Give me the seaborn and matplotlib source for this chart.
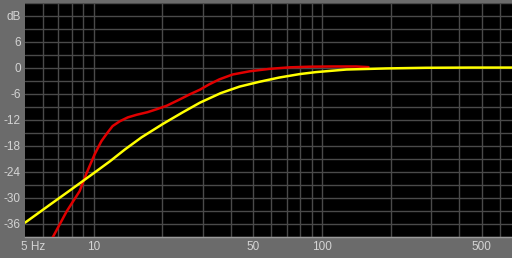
import numpy as np
import pandas as pd
import matplotlib
matplotlib.use("Agg")
import matplotlib.pyplot as plt
import matplotlib.transforms as mtransforms
import seaborn as sns

# ---- data ----
red_freq = [6.4, 6.61, 7.61, 8.68, 9.3, 10.1, 10.8, 11.5, 12.1, 13.0, 14.1, 15.4, 17.2, 18.9,
            20.9, 23.5, 26.3, 29.2, 32.0, 35.6, 40.6, 48.3, 59.0, 72.0, 88.0, 110.0, 141.0, 160.0]
red_db = [-41.0, -39.1, -33.1, -28.4, -24.3, -19.9, -16.9, -14.9, -13.4, -12.3, -11.4, -10.8, -10.2, -9.5,
          -8.7, -7.4, -6.1, -5.0, -3.8, -2.6, -1.5, -0.75, -0.2, 0.15, 0.3, 0.35, 0.35, 0.2]

yellow_freq = [5.0, 6.41, 7.7, 9.4, 11.8, 13.7, 16.2, 20.1, 24.6, 29.2, 36.0, 43.5, 53.0,
               65.0, 80.0, 94.0, 128.0, 191.0, 285.0, 450.0, 680.0]
yellow_db = [-35.7, -31.6, -28.6, -25.3, -21.5, -18.8, -16.0, -12.9, -10.2, -8.0, -5.8, -4.3, -3.2,
             -2.2, -1.4, -0.95, -0.35, -0.1, 0.05, 0.1, 0.1]

x_ticks = [5, 10, 50, 100, 500]
x_tick_labels = ["5 Hz", "10", "50", "100", "500"]
y_ticks = [12, 6, 0, -6, -12, -18, -24, -30, -36]
y_tick_labels = ["dB", "6", "0", "-6", "-12", "-18", "-24", "-30", "-36"]

x_grid = [6, 7, 8, 9, 10, 20, 30, 40, 50, 60, 70, 80, 90, 100, 200, 300, 400, 500, 600]
y_grid = list(range(-39, 16, 3))

df = pd.concat([
    pd.DataFrame({"freq": red_freq, "db": red_db, "curve": "red"}),
    pd.DataFrame({"freq": yellow_freq, "db": yellow_db, "curve": "yellow"}),
])

sns.set_theme(style="dark")
plt.rcParams["font.family"] = ["Liberation Sans", "DejaVu Sans"]

W, H = 512, 258
fig = plt.figure(figsize=(W / 100, H / 100), dpi=100, facecolor="#6b6b6b")
ax = fig.add_axes([25 / W, (H - 237) / H, (W - 25) / W, (237 - 3) / H])
ax.set_facecolor("black")

ax.set_xscale("log")
ax.set_xlim(5, 680)
ax.set_ylim(-39, 15)

for xv in x_grid:
    ax.axvline(xv, color="#4a4a4a", lw=1.0, zorder=1)
for yv in y_grid:
    ax.axhline(yv, color="#4a4a4a", lw=1.0, zorder=1)

sns.lineplot(data=df, x="freq", y="db", hue="curve", palette={"red": "#e00000", "yellow": "#ffff00"},
             hue_order=["red", "yellow"], linewidth=1.8, ax=ax, legend=False, sort=False, zorder=3)

ax.set_xticks(x_ticks)
ax.set_xticklabels(x_tick_labels)
ax.xaxis.set_minor_locator(matplotlib.ticker.NullLocator())
ax.set_yticks(y_ticks)
ax.set_yticklabels(y_tick_labels)
ax.tick_params(axis="both", length=0, labelsize=8.5, colors="#d4d4d4", pad=3)
ax.set_xlabel("")
ax.set_ylabel("")
ax.grid(False)
for sp in ax.spines.values():
    sp.set_visible(False)
ax.spines["bottom"].set_visible(True)
ax.spines["bottom"].set_color("#9a9a9a")
ax.spines["bottom"].set_linewidth(1.0)

lbl0 = ax.get_xticklabels()[0]
lbl0.set_horizontalalignment("left")
lbl0.set_transform(lbl0.get_transform() + mtransforms.ScaledTranslation(-4 / 100, 0, fig.dpi_scale_trans))

fig.savefig("out.png", dpi=100, facecolor=fig.get_facecolor())
